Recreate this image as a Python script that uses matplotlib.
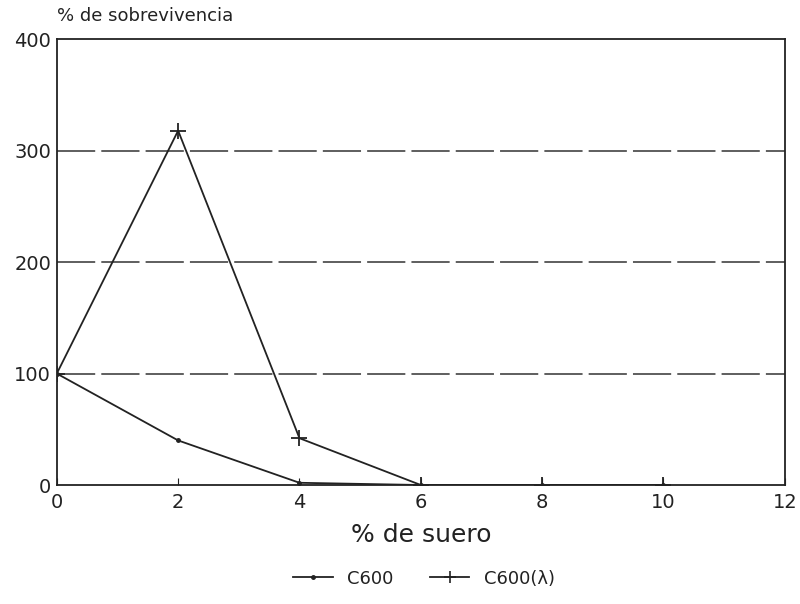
import matplotlib
matplotlib.use("Agg")
import matplotlib.pyplot as plt
from matplotlib.lines import Line2D

suero = [0, 2, 4, 6, 8, 10]
c600 = [100, 40, 2, 0, 0, 0]
c600_lambda = [100, 318, 42, 0, 0, 0]
xticks = [0, 2, 4, 6, 8, 10, 12]
yticks = [0, 100, 200, 300, 400]

plt.rcParams['font.family'] = ['DejaVu Sans']
fig = plt.figure(figsize=(8, 6.04), dpi=100)
ax = fig.add_axes([0.071, 0.197, 0.91, 0.738])

for y in [100, 200, 300]:
    ax.axhline(y, color='#333333', lw=1.1, ls=(0, (25, 4)), zorder=1)

ax.plot(suero, c600, color='#222222', lw=1.3, marker='.', ms=5, zorder=3)
ax.plot(suero, c600_lambda, color='#222222', lw=1.3, marker='+', ms=12, mew=1.3, zorder=3)

ax.set_xlim(0, 12)
ax.set_ylim(0, 400)
ax.set_xticks(xticks)
ax.set_yticks(yticks)
ax.tick_params(axis='both', direction='in', length=5, labelsize=14, colors='#222222', pad=6)
ax.tick_params(axis='y', length=0, pad=4)
for s in ax.spines.values():
    s.set_linewidth(1.3)
    s.set_color('#222222')

fig.text(0.071, 0.958, '% de sobrevivencia', fontsize=13, ha='left', va='bottom', color='#222222')
ax.set_xlabel('% de suero', fontsize=18, color='#222222', labelpad=8)

handles = [
    Line2D([], [], color='#222222', lw=1.3, marker='.', ms=5),
    Line2D([], [], color='#222222', lw=1.3, marker='+', ms=9, mew=1.2),
]
fig.legend(handles, ['C600', 'C600(λ)'], loc='lower center', bbox_to_anchor=(0.53, 0.0),
           ncol=2, frameon=False, fontsize=13, handlelength=2.2, columnspacing=2.0,
           labelcolor='#222222')

fig.savefig('out.png', dpi=100)
